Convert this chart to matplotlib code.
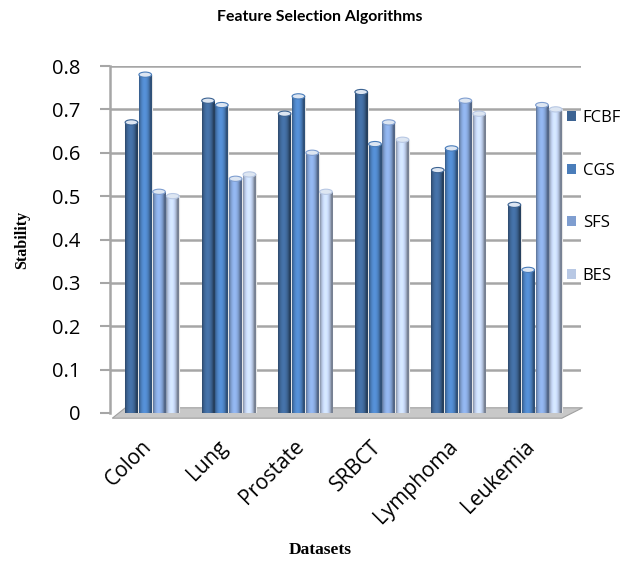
import numpy as np
import matplotlib.pyplot as plt
from matplotlib.patches import Polygon, Ellipse, Patch
from matplotlib.colors import to_rgb
from matplotlib.transforms import ScaledTranslation

datasets = ["Colon", "Lung", "Prostate", "SRBCT", "Lymphoma", "Leukemia"]
algorithms = ["FCBF", "CGS", "SFS", "BES"]
fcbf = [0.67, 0.72, 0.69, 0.74, 0.56, 0.48]
cgs = [0.78, 0.71, 0.73, 0.62, 0.61, 0.33]
sfs = [0.51, 0.54, 0.60, 0.67, 0.72, 0.71]
bes = [0.50, 0.55, 0.51, 0.63, 0.69, 0.70]
yticks = [0, 0.1, 0.2, 0.3, 0.4, 0.5, 0.6, 0.7, 0.8]

colors = ["#3C6392", "#4A7DBA", "#7F9ED0", "#B8C8E4"]
grid_c = "#A6A6A6"

fig = plt.figure(figsize=(6.39, 5.70), dpi=100)
ax = fig.add_axes([110 / 639, 1 - 413 / 570, 471 / 639, (413 - 66) / 570])

x = np.arange(len(datasets))
w = 0.165
step = 0.18


def shade(c):
    # cylinder-like horizontal gradient for a bar
    base = np.array(to_rgb(c))
    t = np.linspace(0, 1, 32)
    k = 0.72 + 0.45 * np.sin(np.pi * np.clip(t * 1.15, 0, 1)) ** 0.8
    k = np.where(t > 0.85, k * 0.9, k)
    rgb = np.clip(base[None, :] * k[:, None], 0, 1)
    return rgb[None, :, :]


for i, (vals, c) in enumerate(zip([fcbf, cgs, sfs, bes], colors)):
    xs = x + (i - 1.5) * step
    bars = ax.bar(xs, vals, width=w, color=c, edgecolor="#E6E6E6",
                  linewidth=0.8, zorder=3)
    for b, v in zip(bars, vals):
        im = ax.imshow(shade(c), extent=[b.get_x(), b.get_x() + w, 0, v],
                       aspect="auto", zorder=3.5, interpolation="bilinear")
        im.set_clip_path(b)
        ax.add_patch(Ellipse((b.get_x() + w / 2, v), w, 0.012,
                             facecolor="#DDE6F2", edgecolor=c,
                             linewidth=0.8, zorder=4))

ax.set_xlim(-0.55, 5.6)
ax.set_ylim(0, 0.8)

# floor of the 3D chart
floor = Polygon([(-0.52, -0.012), (5.35, -0.012), (5.62, 0.012), (-0.35, 0.012)],
                closed=True, facecolor="#C8C8C8", edgecolor="#A0A0A0",
                linewidth=0.8, zorder=2, clip_on=False)
ax.add_patch(floor)

for t in yticks[1:]:
    ax.axhline(t, color=grid_c, linewidth=1.8, zorder=1)

for s in ["top", "right", "bottom"]:
    ax.spines[s].set_visible(False)
ax.spines["left"].set_color(grid_c)
ax.spines["left"].set_linewidth(1.8)

ax.set_yticks(yticks)
ax.set_yticklabels([f"{t:g}" for t in yticks], fontsize=14.5, family="Open Sans")
ax.tick_params(axis="y", length=7, width=1.5, color=grid_c, pad=14)
ax.set_xticks(x)
ax.set_xticklabels(datasets, rotation=45, ha="right", va="center",
                   rotation_mode="anchor", fontsize=15, family="Open Sans")
ax.tick_params(axis="x", length=0, pad=22)
for lab in ax.get_xticklabels():
    lab.set_transform(lab.get_transform() +
                      ScaledTranslation(-4 / 100, 0, fig.dpi_scale_trans))

fig.text(0.5, 1 - 17 / 570, "Feature Selection Algorithms", ha="center",
         va="center", fontsize=11.4, fontweight="bold", family="Lato")
fig.text(22 / 639, 1 - 240 / 570, "Stability", rotation=90, ha="center",
         va="center", fontsize=11.5, fontweight="bold", family="Liberation Serif")
fig.text(320 / 639, 1 - 550 / 570, "Datasets", ha="center", va="center",
         fontsize=12.5, fontweight="bold", family="Liberation Serif")

handles = [Patch(facecolor=c) for c in colors]
fig.legend(handles, algorithms, loc="center left",
           bbox_to_anchor=(567 / 639, 1 - 197 / 570), frameon=False,
           handlelength=0.55, handleheight=0.55, handletextpad=0.4,
           labelspacing=2.2, borderpad=0, borderaxespad=0,
           prop={"family": "Open Sans", "size": 12})

fig.savefig("out.png", dpi=100)
